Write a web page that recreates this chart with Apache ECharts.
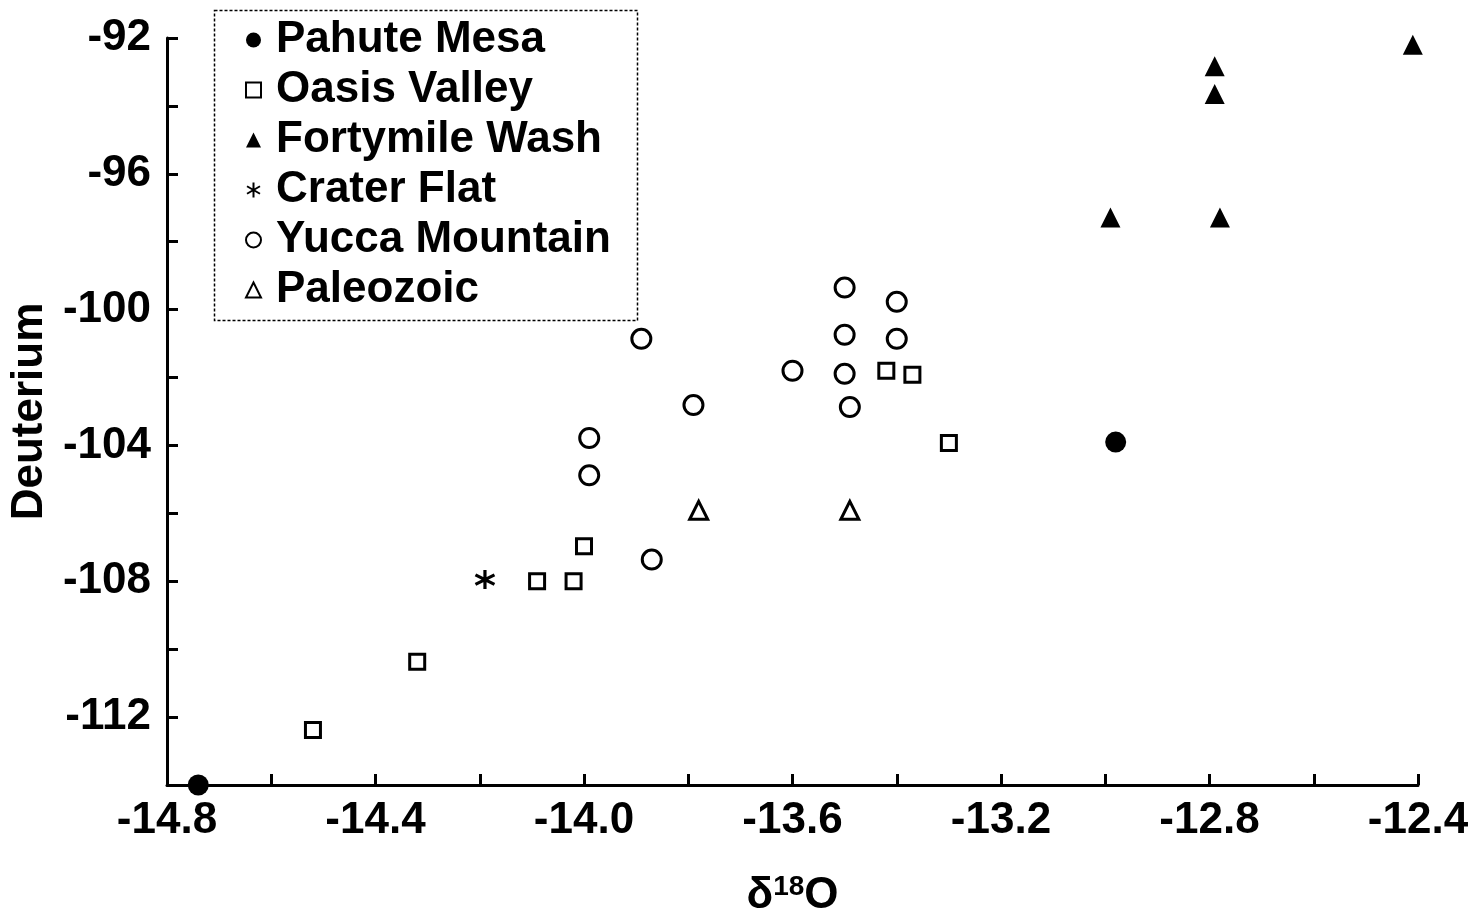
<!DOCTYPE html>
<html>
<head>
<meta charset="utf-8">
<script src="https://cdn.jsdelivr.net/npm/echarts@6/dist/echarts.min.js"></script>
<style>
  html, body { margin: 0; padding: 0; background: #fff; }
  #chart { width: 1476px; height: 914px; }
</style>
</head>
<body>
<div id="chart"></div>
<script>
// values: [delta 18O, deuterium]
var pahuteMesa = [[-14.74, -114.0], [-12.98, -103.9]];
var oasisValley = [[-14.52, -112.38], [-14.32, -110.37], [-14.09, -108.0], [-14.02, -108.0],
    [-14.0, -106.97], [-13.42, -101.8], [-13.37, -101.92], [-13.30, -103.93]];
var fortymileWash = [[-12.79, -92.83], [-12.79, -93.65], [-12.99, -97.29], [-12.78, -97.29], [-12.41, -92.2]];
var craterFlat = [[-14.19, -107.95]];
var yuccaMountain = [[-13.50, -99.35], [-13.40, -99.77], [-13.50, -100.74], [-13.40, -100.86],
    [-13.89, -100.86], [-13.60, -101.8], [-13.50, -101.89], [-13.79, -102.81], [-13.49, -102.87],
    [-13.99, -103.78], [-13.99, -104.88], [-13.87, -107.36]];
var paleozoic = [[-13.78, -105.91], [-13.49, -105.91]];

var seriesNames = ['Pahute Mesa', 'Oasis Valley', 'Fortymile Wash', 'Crater Flat', 'Yucca Mountain', 'Paleozoic'];

var FONT = '"Liberation Sans", Arial, sans-serif';
var asterisk = 'path://M0,-10L0,10M-8.66,-5L8.66,5M-8.66,5L8.66,-5';

var chart = echarts.init(document.getElementById('chart'));

var option = {
    backgroundColor: '#fff',
    animation: false,
    textStyle: { fontFamily: FONT },
    grid: { left: 167, right: 58, top: 38, bottom: 129, containLabel: false, outerBoundsMode: 'none' },
    legend: {
        orient: 'vertical',
        left: 240,
        top: 13,
        itemWidth: 15,
        itemHeight: 15,
        itemGap: 6,
        textStyle: { fontFamily: FONT, fontSize: 44, fontWeight: 'bold', color: '#000', lineHeight: 44, padding: [0, 0, 0, 10] },
        data: seriesNames
    },
    graphic: [{
        type: 'rect',
        left: 212, top: 8,
        shape: { width: 423, height: 310 },
        style: { fill: 'none', stroke: '#000', lineWidth: 1.5, lineDash: [3, 2] }
    }],
    xAxis: {
        type: 'value',
        min: -14.8, max: -12.4, interval: 0.2,
        splitLine: { show: false },
        axisLine: { lineStyle: { color: '#000', width: 3 } },
        axisTick: { inside: true, length: 11, lineStyle: { color: '#000', width: 3 } },
        axisLabel: {
            color: '#000', fontSize: 44, fontWeight: 'bold', fontFamily: FONT, margin: 14,
            formatter: function (v) { return Math.round(v * 10) % 4 === 0 ? v.toFixed(1) : ''; }
        },
        name: '{a|δ}{b|18}{a|O}',
        nameLocation: 'middle',
        nameGap: 88,
        nameTextStyle: {
            rich: {
                a: { fontSize: 44, fontWeight: 'bold', fontFamily: FONT, color: '#000' },
                b: { fontSize: 28, fontWeight: 'bold', fontFamily: FONT, color: '#000', verticalAlign: 'top', padding: [0, 0, 18, 0] }
            }
        }
    },
    yAxis: {
        type: 'value',
        min: -114, max: -92, interval: 2,
        splitLine: { show: false },
        axisLine: { lineStyle: { color: '#000', width: 3 } },
        axisTick: { inside: true, length: 11, lineStyle: { color: '#000', width: 3 } },
        axisLabel: {
            color: '#000', fontSize: 44, fontWeight: 'bold', fontFamily: FONT, margin: 16,
            formatter: function (v) { return v % 4 === 0 ? String(v) : ''; }
        },
        name: 'Deuterium',
        nameLocation: 'middle',
        nameRotate: 90,
        nameGap: 106,
        nameTextStyle: { fontSize: 44, fontWeight: 'bold', fontFamily: FONT, color: '#000' }
    },
    series: [
        {
            name: seriesNames[0], type: 'scatter', data: pahuteMesa,
            symbol: 'circle', symbolSize: 21,
            itemStyle: { color: '#000', opacity: 1 }
        },
        {
            name: seriesNames[1], type: 'scatter', data: oasisValley,
            symbol: 'rect', symbolSize: 15,
            itemStyle: { color: '#fff', borderColor: '#000', borderWidth: 3, opacity: 1 }
        },
        {
            name: seriesNames[2], type: 'scatter', data: fortymileWash,
            symbol: 'triangle', symbolSize: 20,
            itemStyle: { color: '#000', opacity: 1 }
        },
        {
            name: seriesNames[3], type: 'scatter', data: craterFlat,
            symbol: asterisk, symbolSize: 19,
            itemStyle: { color: 'transparent', borderColor: '#000', borderWidth: 3.2, opacity: 1 }
        },
        {
            name: seriesNames[4], type: 'scatter', data: yuccaMountain,
            symbol: 'circle', symbolSize: 19,
            itemStyle: { color: '#fff', borderColor: '#000', borderWidth: 3, opacity: 1 }
        },
        {
            name: seriesNames[5], type: 'scatter', data: paleozoic,
            symbol: 'triangle', symbolSize: 18,
            itemStyle: { color: '#fff', borderColor: '#000', borderWidth: 3, opacity: 1 }
        }
    ]
};

chart.setOption(option);
</script>
</body>
</html>
